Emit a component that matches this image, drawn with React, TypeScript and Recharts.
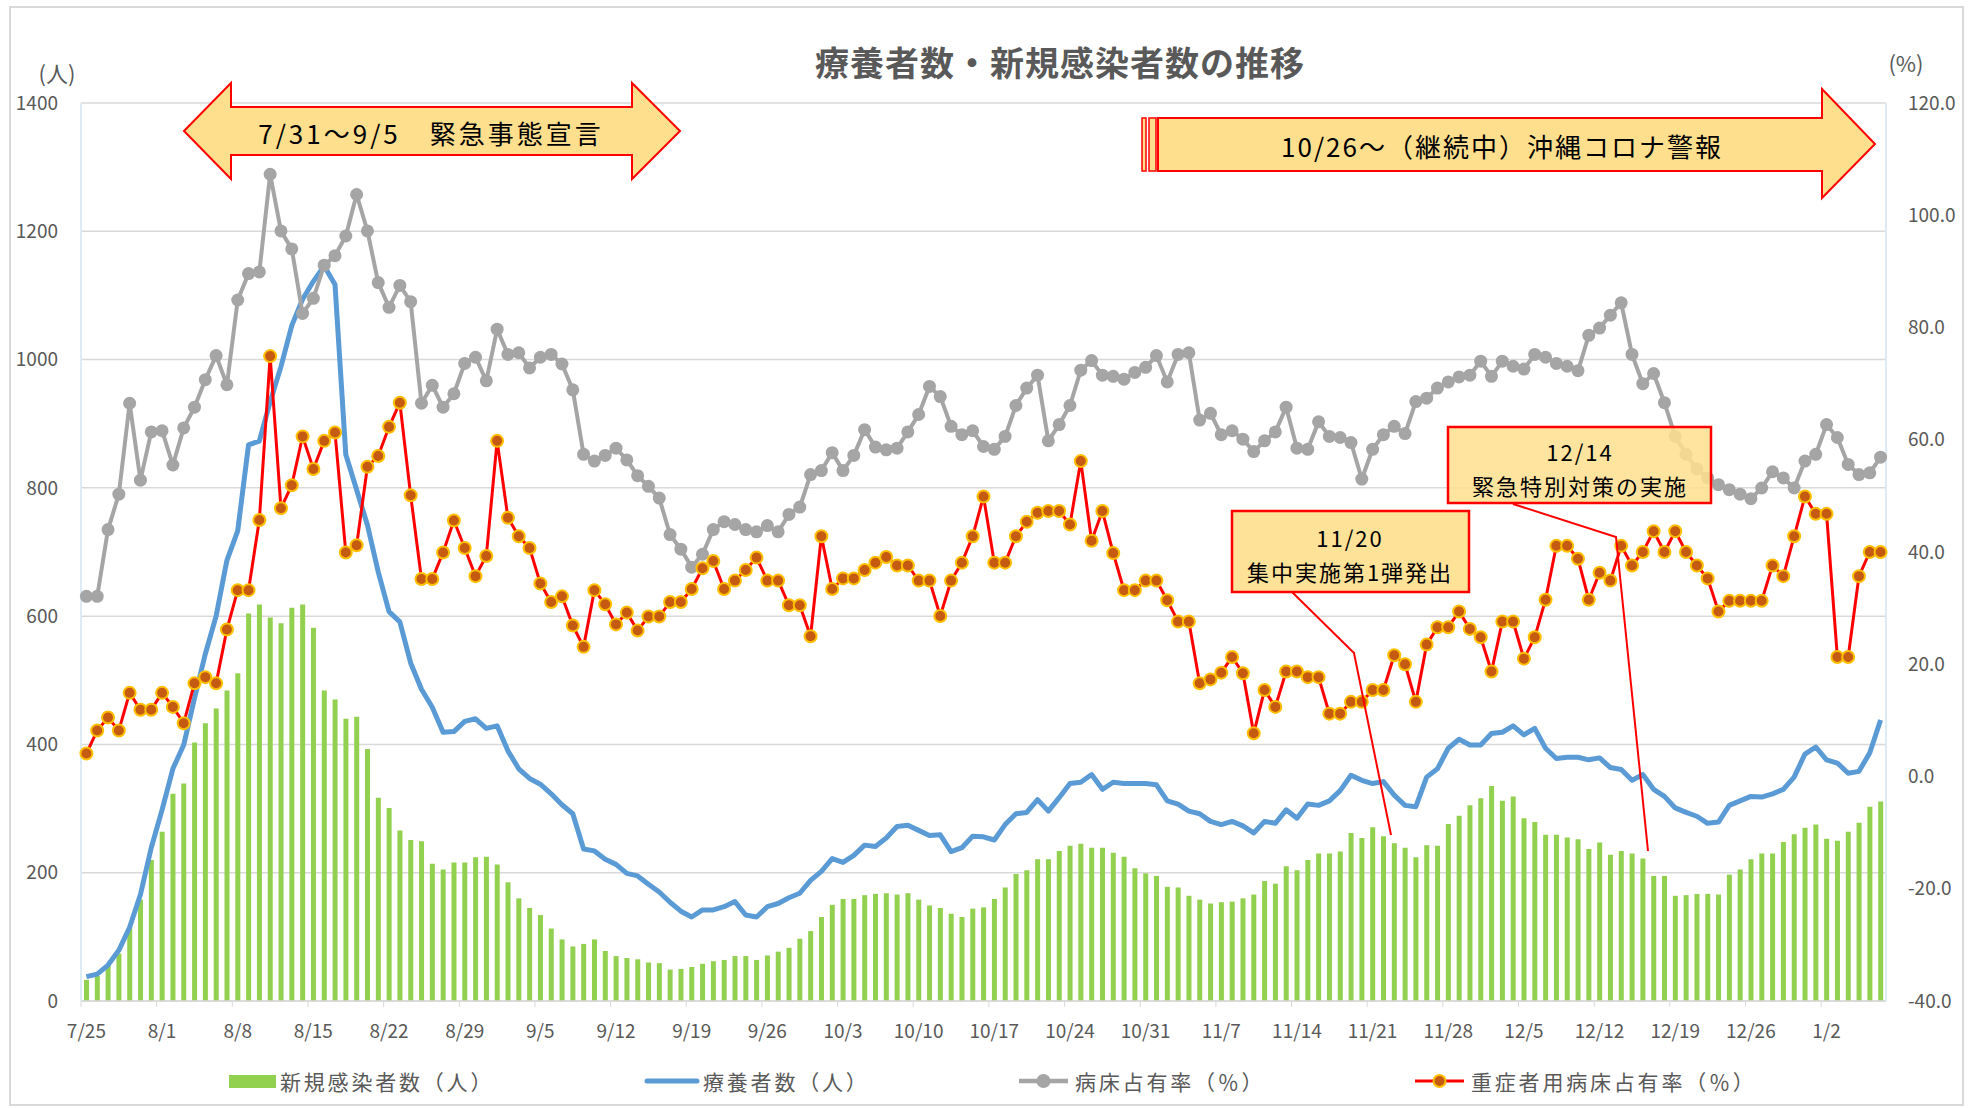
import React from "react";
import { ComposedChart, Bar, Line, XAxis, YAxis, CartesianGrid } from "recharts";

const FONT = "'Noto Sans CJK JP', 'Noto Sans', sans-serif";

// 2021/7/25 ～ 2022/1/7 (167日)
const START = new Date(2021, 6, 25);
const dates: string[] = Array.from({ length: 167 }, (_, i) => {
  const d = new Date(START.getFullYear(), START.getMonth(), START.getDate() + i);
  return `${d.getMonth() + 1}/${d.getDate()}`;
});

// 新規感染者数（人）
const newCases = [
  33, 39, 56, 74, 115, 158, 220, 264, 323, 339, 403, 433, 456, 484, 511, 604, 618, 598, 589, 613, 618, 582, 484, 470, 440, 443, 393, 317, 301,
  266, 251, 249, 214, 205, 216, 216, 224, 225, 213, 185, 160, 145, 134, 113, 96, 85, 89, 96, 78, 70, 67, 65, 60, 59, 49, 50, 53,
  58, 62, 64, 70, 70, 64, 71, 77, 83, 97, 109, 131, 150, 159, 159, 165, 167, 168, 166, 168, 158, 149, 145, 136, 131, 144, 146, 159, 177,
  198, 204, 221, 221, 234, 242, 245, 239, 239, 231, 225, 207, 199, 195, 178, 177, 164, 158, 152, 154, 155, 160, 166, 187, 183, 210, 204, 220, 230,
  230, 233, 262, 254, 271, 257, 246, 239, 224, 243, 242, 276, 289, 305, 316, 335, 312, 319, 285, 279, 259, 259, 255, 252, 237, 247, 228, 234, 230,
  222, 195, 195, 164, 165, 167, 167, 166, 197, 205, 221, 230, 230, 248, 260, 270, 275, 253, 250, 264, 278, 303, 311,
];

// 療養者数（人）
const patients = [
  38, 42, 56, 79, 115, 166, 239, 298, 362, 399, 472, 541, 600, 687, 733, 867, 873, 934, 989, 1053, 1094, 1122, 1146, 1117, 852, 797, 742, 669, 607,
  591, 527, 486, 458, 419, 420, 436, 440, 425, 429, 390, 362, 347, 338, 323, 306, 292, 237, 234, 221, 213, 199, 195, 182, 170, 154, 140, 131, 142,
  142, 147, 155, 134, 131, 147, 152, 161, 168, 188, 202, 222, 216, 227, 243, 241, 254, 272, 274, 266, 258, 259, 233, 239, 257, 256, 251, 275,
  292, 294, 314, 296, 317, 339, 341, 353, 330, 341, 339, 339, 339, 337, 312, 307, 296, 292, 280, 275, 280, 273, 262, 280, 277, 298, 285, 307, 305,
  312, 328, 352, 344, 339, 342, 321, 305, 303, 349, 362, 394, 408, 399, 399, 417, 419, 429, 415, 425, 394, 378, 380, 380, 376, 379, 364, 361, 344,
  353, 330, 319, 301, 294, 288, 277, 279, 305, 312, 319, 318, 323, 330, 349, 385, 396, 376, 371, 355, 358, 387, 438,
];

// 病床占有率（％）
const bedRate = [
  32.1, 32.1, 44.0, 50.3, 66.5, 52.8, 61.4, 61.6, 55.5, 62.1, 65.8, 70.7, 75.0, 69.8, 84.9, 89.6, 89.9, 107.3, 97.2, 94.0, 82.5, 85.2, 91.1, 92.8, 96.3, 103.7, 97.2, 88.0, 83.6,
  87.5, 84.6, 66.5, 69.7, 65.8, 68.2, 73.6, 74.7, 70.5, 79.7, 75.2, 75.5, 72.8, 74.7, 75.2, 73.5, 68.9, 57.4, 56.2, 57.2, 58.5, 56.4, 53.6, 51.7, 49.6, 43.1, 40.5, 37.3, 39.6,
  44.0, 45.4, 44.9, 44.0, 43.6, 44.7, 43.6, 46.7, 48.0, 53.8, 54.5, 57.7, 54.5, 57.2, 61.8, 58.7, 58.2, 58.5, 61.4, 64.5, 69.5, 67.7, 62.4, 60.9, 61.6, 58.8, 58.3, 60.6,
  66.1, 69.2, 71.5, 59.8, 62.7, 66.1, 72.4, 74.1, 71.5, 71.3, 70.8, 72.0, 72.9, 75.0, 70.3, 75.2, 75.5, 63.5, 64.7, 60.9, 61.6, 60.1, 57.9, 59.8, 61.4, 65.8, 58.5, 58.3, 63.2,
  60.6, 60.4, 59.5, 53.0, 58.3, 60.9, 62.4, 61.1, 66.8, 67.4, 69.2, 70.3, 71.2, 71.5, 74.0, 71.3, 74.0, 73.1, 72.6, 75.2, 74.7, 73.6, 73.1, 72.3, 78.6, 79.9, 82.2, 84.4, 75.2,
  70.0, 71.8, 66.6, 60.6, 57.4, 54.8, 53.2, 52.0, 51.1, 50.3, 49.5, 51.4, 54.3, 53.2, 51.4, 56.2, 57.4, 62.7, 60.4, 55.6, 53.8, 54.1, 56.9,
];

// 重症者用病床占有率（％）
const severeRate = [
  4.1, 8.2, 10.5, 8.2, 14.9, 11.9, 11.9, 14.9, 12.4, 9.5, 16.6, 17.7, 16.6, 26.2, 33.2, 33.2, 45.7, 74.9, 47.8, 51.9, 60.6, 54.8, 59.8, 61.3, 39.9, 41.2, 55.2, 57.1, 62.3,
  66.6, 50.1, 35.2, 35.2, 39.9, 45.6, 40.7, 35.7, 39.3, 59.8, 46.1, 42.8, 40.7, 34.4, 31.1, 32.1, 26.9, 23.1, 33.2, 30.7, 27.1, 29.2, 26.0, 28.5, 28.5, 31.1, 31.1, 33.4, 37.1,
  38.4, 33.4, 34.9, 36.8, 39.0, 34.9, 34.9, 30.5, 30.5, 25.0, 42.8, 33.4, 35.3, 35.3, 36.8, 38.1, 39.1, 37.6, 37.6, 34.9, 34.9, 28.6, 34.9, 38.1, 42.8, 49.9, 38.1, 38.1,
  42.8, 45.4, 47.0, 47.3, 47.3, 44.9, 56.2, 42.0, 47.3, 39.8, 33.2, 33.2, 34.9, 34.9, 31.4, 27.6, 27.6, 16.6, 17.3, 18.5, 21.3, 18.4, 7.7, 15.4, 12.4, 18.7, 18.7, 17.7, 17.7,
  11.2, 11.2, 13.3, 13.3, 15.4, 15.4, 21.6, 20.0, 13.3, 23.5, 26.6, 26.6, 29.4, 26.3, 24.8, 18.7, 27.6, 27.6, 21.0, 24.8, 31.5, 41.1, 41.1, 38.8, 31.5, 36.3, 34.9, 41.1, 37.6,
  40.0, 43.7, 40.0, 43.7, 40.0, 37.6, 35.3, 29.4, 31.3, 31.3, 31.3, 31.3, 37.6, 35.7, 42.8, 49.9, 46.8, 46.8, 21.3, 21.3, 35.7, 40.0, 40.0,
];

const leftTicks = [0, 200, 400, 600, 800, 1000, 1200, 1400];
const rightTicks = [-40, -20, 0, 20, 40, 60, 80, 100, 120];

const W = 1979;
const H = 1108;
const TEXT = "#595959";
const ARROW_FILL = "#FEDF8E";

const data = dates.map((date, i) => ({
  date,
  newCases: newCases[i],
  patients: patients[i],
  bedRate: bedRate[i],
  severeRate: severeRate[i],
}));

function XTick(props: any) {
  const { x, y, payload } = props;
  const half = 1805 / dates.length / 2;
  return (
    <g>
      <line x1={x - half} x2={x - half} y1={y} y2={y + 6} stroke="#D9D9D9" />
      <text x={x} y={y + 37} textAnchor="middle" fill={TEXT} fontSize={19} fontFamily={FONT}>
        {payload.value}
      </text>
    </g>
  );
}

function Overlay() {
  return (
    <svg
      width={W}
      height={H}
      style={{ position: "absolute", left: 0, top: 0, pointerEvents: "none" }}
      fontFamily={FONT}
    >
      <rect x={10} y={7} width={1953} height={1098} fill="none" stroke="#D9D9D9" strokeWidth={2} />
      <text x={1060} y={61} textAnchor="middle" dominantBaseline="central" fontSize={34} fontWeight="bold" fill={TEXT} letterSpacing={1}>
        療養者数・新規感染者数の推移
      </text>
      <text x={57} y={72} textAnchor="middle" dominantBaseline="central" fontSize={22} fill={TEXT}>(人)</text>
      <text x={1906} y={62} textAnchor="middle" dominantBaseline="central" fontSize={22} fill={TEXT}>(%)</text>

      {/* 緊急事態宣言 */}
      <polygon
        points="184,131 231,83 231,107 632,107 632,83 680,131 632,179 632,155 231,155 231,179"
        fill={ARROW_FILL}
        stroke="#FF0000"
        strokeWidth={2}
      />
      <text x={431} y={132} textAnchor="middle" dominantBaseline="central" fontSize={26} fill="#000" letterSpacing={3}>
        7/31～9/5　緊急事態宣言
      </text>

      {/* 沖縄コロナ警報 */}
      <rect x={1142} y={118} width={4} height={53} fill={ARROW_FILL} stroke="#FF0000" strokeWidth={1.5} />
      <rect x={1149} y={118} width={7} height={53} fill={ARROW_FILL} stroke="#FF0000" strokeWidth={1.5} />
      <polygon
        points="1158,118 1822,118 1822,89 1875,144 1822,198 1822,171 1158,171"
        fill={ARROW_FILL}
        stroke="#FF0000"
        strokeWidth={2}
      />
      <text x={1502} y={145} textAnchor="middle" dominantBaseline="central" fontSize={26} fill="#000" letterSpacing={2}>
        10/26～（継続中）沖縄コロナ警報
      </text>

      {/* 11/20 */}
      <polyline points="1292,592 1354,653 1391,835" fill="none" stroke="#FF0000" strokeWidth={2} />
      <rect x={1232} y={511} width={237} height={81} fill={ARROW_FILL} fillOpacity={0.92} stroke="#FF0000" strokeWidth={2.5} />
      <text x={1350} y={537} textAnchor="middle" dominantBaseline="central" fontSize={22} fill="#000" letterSpacing={2}>11/20</text>
      <text x={1350} y={571} textAnchor="middle" dominantBaseline="central" fontSize={22} fill="#000" letterSpacing={2}>集中実施第1弾発出</text>

      {/* 12/14 */}
      <polyline points="1513,504 1616,537 1648,851" fill="none" stroke="#FF0000" strokeWidth={2} />
      <rect x={1448} y={427} width={263} height={76} fill={ARROW_FILL} fillOpacity={0.85} stroke="#FF0000" strokeWidth={2.5} />
      <text x={1580} y={451} textAnchor="middle" dominantBaseline="central" fontSize={22} fill="#000" letterSpacing={2}>12/14</text>
      <text x={1580} y={485} textAnchor="middle" dominantBaseline="central" fontSize={22} fill="#000" letterSpacing={2}>緊急特別対策の実施</text>

      {/* 凡例 */}
      <rect x={229} y={1075} width={47} height={13} fill="#92D050" />
      <text x={280} y={1081} dominantBaseline="central" fontSize={21} fill={TEXT} letterSpacing={2.8}>新規感染者数（人）</text>
      <line x1={647} x2={697} y1={1081} y2={1081} stroke="#5B9BD5" strokeWidth={5} strokeLinecap="round" />
      <text x={703} y={1081} dominantBaseline="central" fontSize={21} fill={TEXT} letterSpacing={2.8}>療養者数（人）</text>
      <line x1={1019} x2={1068} y1={1081} y2={1081} stroke="#A5A5A5" strokeWidth={4.5} />
      <circle cx={1043.5} cy={1081} r={7} fill="#A5A5A5" />
      <text x={1075} y={1081} dominantBaseline="central" fontSize={21} fill={TEXT} letterSpacing={2.8}>病床占有率（％）</text>
      <line x1={1415} x2={1464} y1={1081} y2={1081} stroke="#FF0000" strokeWidth={3} />
      <circle cx={1439.5} cy={1081} r={6} fill="#C55A11" stroke="#FFC000" strokeWidth={2} />
      <text x={1471} y={1081} dominantBaseline="central" fontSize={21} fill={TEXT} letterSpacing={2.8}>重症者用病床占有率（％）</text>
    </svg>
  );
}

export default function App() {
  return (
    <div style={{ position: "absolute", left: 0, top: 0, width: W, height: H, background: "#fff", fontFamily: FONT }}>
      <ComposedChart width={W} height={H} data={data} margin={{ top: 103, right: 0, bottom: 67, left: 0 }}>
        <CartesianGrid yAxisId="left" vertical={false} stroke="#D9D9D9" strokeWidth={1.5} />
        <XAxis
          dataKey="date"
          interval={6}
          height={40}
          tickLine={false}
          tickSize={0}
          tickMargin={0}
          axisLine={{ stroke: "#D9D9D9", strokeWidth: 1.5 }}
          tick={<XTick />}
        />
        <YAxis
          yAxisId="left"
          domain={[0, 1400]}
          ticks={leftTicks}
          width={81}
          axisLine={{ stroke: "#DDEBF7", strokeWidth: 2 }}
          tickLine={false}
          tickSize={0}
          tickMargin={23}
          tick={{ fill: TEXT, fontSize: 19, fontFamily: FONT }}
        />
        <YAxis
          yAxisId="right"
          orientation="right"
          domain={[-40, 120]}
          ticks={rightTicks}
          width={93}
          axisLine={{ stroke: "#DDEBF7", strokeWidth: 2 }}
          tickLine={false}
          tickSize={0}
          tickMargin={22}
          tickFormatter={(v: number) => v.toFixed(1)}
          tick={{ fill: TEXT, fontSize: 19, fontFamily: FONT, textAnchor: "start" }}
        />
        <Bar yAxisId="left" dataKey="newCases" fill="#92D050" barSize={5} isAnimationActive={false} />
        <Line
          yAxisId="left"
          type="linear"
          dataKey="patients"
          stroke="#5B9BD5"
          strokeWidth={5}
          strokeLinejoin="round"
          dot={false}
          isAnimationActive={false}
        />
        <Line
          yAxisId="right"
          type="linear"
          dataKey="bedRate"
          stroke="#A5A5A5"
          strokeWidth={4}
          dot={{ r: 6.5, fill: "#A5A5A5", stroke: "#A5A5A5", strokeWidth: 0 }}
          isAnimationActive={false}
        />
        <Line
          yAxisId="right"
          type="linear"
          dataKey="severeRate"
          stroke="#FF0000"
          strokeWidth={3}
          dot={{ r: 6, fill: "#C55A11", stroke: "#FFC000", strokeWidth: 2 }}
          isAnimationActive={false}
        />
      </ComposedChart>
      <Overlay />
    </div>
  );
}
